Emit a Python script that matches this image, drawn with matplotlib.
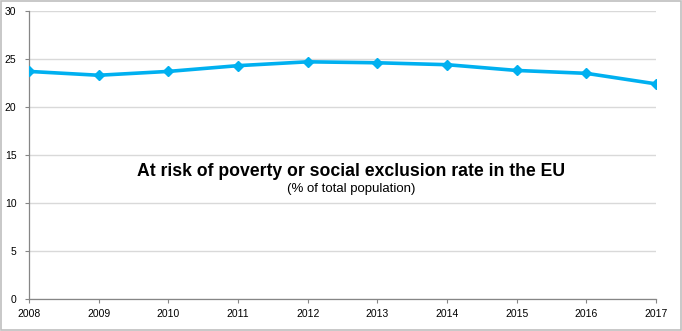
import matplotlib.pyplot as plt
from matplotlib.patches import Rectangle

# Data
YEARS = [2008, 2009, 2010, 2011, 2012, 2013, 2014, 2015, 2016, 2017]
RATE = [23.7, 23.3, 23.7, 24.3, 24.7, 24.6, 24.4, 23.8, 23.5, 22.4]
Y_TICKS = [0, 5, 10, 15, 20, 25, 30]

TITLE = "At risk of poverty or social exclusion rate in the EU"
SUBTITLE = "(% of total population)"

LINE_COLOR = "#00b0f0"
GRID_COLOR = "#d9d9d9"
AXIS_COLOR = "#868686"

plt.rcParams["font.family"] = ["Liberation Sans", "DejaVu Sans"]

fig = plt.figure(figsize=(6.82, 3.31), dpi=100)
ax = fig.add_axes([0.0425, 0.0967, 0.9195, 0.8703])

ax.plot(YEARS, RATE, color=LINE_COLOR, linewidth=2.6, marker="D",
        markersize=5, markeredgecolor=LINE_COLOR, markerfacecolor=LINE_COLOR,
        solid_joinstyle="round", zorder=3)

ax.set_xlim(YEARS[0], YEARS[-1])
ax.set_ylim(Y_TICKS[0], Y_TICKS[-1])
ax.set_xticks(YEARS)
ax.set_yticks(Y_TICKS)
ax.tick_params(axis="both", labelsize=7.5, colors=AXIS_COLOR, labelcolor="black",
               length=3, width=0.8, direction="out")
ax.tick_params(axis="y", pad=6)
ax.tick_params(axis="x", pad=4)

ax.grid(axis="y", color=GRID_COLOR, linewidth=1.0, zorder=0)
ax.set_axisbelow(True)
for side in ["top", "right"]:
    ax.spines[side].set_visible(False)
for side in ["left", "bottom"]:
    ax.spines[side].set_color(AXIS_COLOR)
    ax.spines[side].set_linewidth(0.9)

fig.text(0.515, 0.482, TITLE, ha="center", va="center", fontsize=12.7,
         fontweight="bold")
fig.text(0.515, 0.428, SUBTITLE, ha="center", va="center", fontsize=9.5)

# outer chart frame
fig.add_artist(Rectangle((0.001, 0.003), 0.997, 0.994, transform=fig.transFigure,
                         fill=False, edgecolor="#bfbfbf", linewidth=1.2))

fig.savefig("out.png", dpi=100)
